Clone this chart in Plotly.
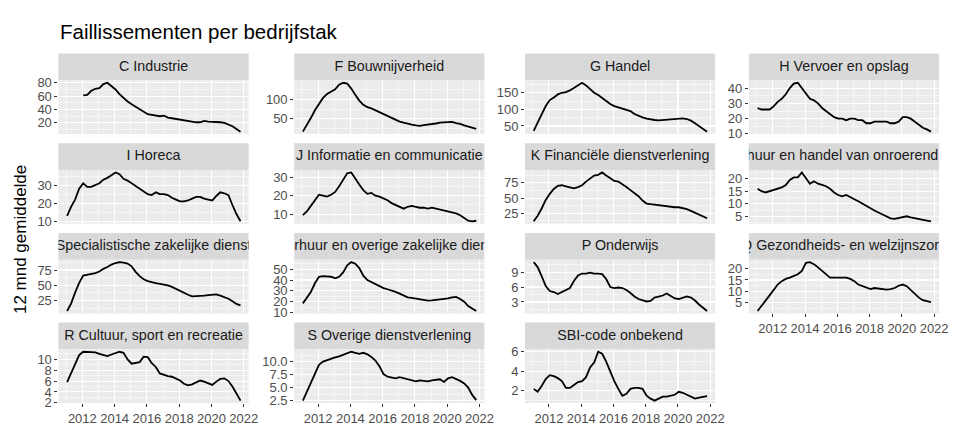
import pandas as pd
import plotly.graph_objects as go

# ---------------- data (quarterly readings of the 12-month average) ----------------
dates = pd.date_range("2011-01-01", periods=44, freq="QS") + pd.Timedelta(days=20)

panel_titles = [
    "C Industrie", "F Bouwnijverheid", "G Handel", "H Vervoer en opslag",
    "I Horeca", "J Informatie en communicatie", "K Financiële dienstverlening",
    "L Verhuur en handel van onroerend goed",
    "M Specialistische zakelijke diensten", "N Verhuur en overige zakelijke diensten",
    "P Onderwijs", "Q Gezondheids- en welzijnszorg",
    "R Cultuur, sport en recreatie", "S Overige dienstverlening", "SBI-code onbekend",
]

C_industrie = [None, None, None, None,
               61, 62, 68, 71, 72, 78, 80, 75, 70, 63, 57, 52, 48, 44, 40, 36,
               33, 32, 31, 30, 31, 28, 27, 26, 24, 23, 22, 21, 21, 21, 23, 22,
               22, 21, 21, 20, 18, 15, 11, 7]
F_bouw = [17, 33, 52, 72, 90, 104, 114, 120, 126, 138, 143, 141, 128, 112, 97, 86,
          80, 77, 72, 67, 63, 57, 52, 47, 43, 40, 37, 35, 33, 32, 34, 35,
          37, 38, 40, 41, 42, 42, 39, 37, 33, 30, 27, 24]
G_handel = [35, 58, 85, 110, 128, 136, 145, 150, 152, 157, 165, 174, 180, 172, 162, 150,
            143, 134, 124, 116, 110, 106, 102, 99, 95, 86, 80, 76, 72, 69, 68, 67,
            68, 68, 69, 70, 72, 73, 71, 66, 58, 50, 42, 33]
H_vervoer = [27, 26, 26, 26, 28, 31, 33, 36, 40, 43, 43.5, 40, 37, 33, 32, 30,
             27, 25, 23, 21, 20, 20, 19, 20, 20, 19, 19, 17, 17, 18, 18, 18,
             18, 17, 17, 18, 21, 21, 20, 18, 16, 14, 13, 11.5]
I_horeca = [13, 18, 22, 28, 31, 29, 29, 30, 31, 33, 34, 35.5, 37, 36, 33.5, 32.5,
            31, 29.5, 28, 26.5, 25, 24.5, 26, 25, 25, 24.5, 23, 22, 21, 21, 21.5, 22.5,
            23.5, 23.5, 22.5, 22, 21.5, 24, 26, 25.5, 24.5, 19, 14, 10]
J_informatie = [9.5, 11.5, 14.5, 17.5, 20.5, 20, 19.5, 20.5, 22, 25, 28.5, 32, 32.5, 29, 26, 23,
                21, 21.5, 20, 19.5, 18.5, 17.5, 16, 15, 14, 13, 14, 14.5, 14, 13.5, 13.5, 13,
                13.5, 13, 12.5, 12, 11.8, 11, 10.5, 9.5, 7.8, 6.5, 6.2, 6.5]
K_financieel = [12, 21, 33, 47, 57, 65, 70, 71, 69, 67, 66, 68, 71, 77, 82, 87,
                88, 92, 87, 82, 78, 77, 73, 68, 63, 58, 53, 46, 41, 40, 39, 38,
                37, 36, 35.5, 35, 35, 34, 32, 29, 26, 23, 20, 17]
L_onroerend = [16, 15, 14.5, 15, 15.5, 16, 16.5, 17.5, 19.5, 20.5, 20.5, 22.5, 20, 18, 19, 18,
               17.5, 17, 16, 14.5, 13.5, 13, 13.5, 12.5, 11.8, 11, 10, 9.2, 8.3, 7.3, 6.5, 5.7,
               4.9, 4.2, 4, 4.4, 4.8, 5, 4.6, 4.2, 3.9, 3.6, 3.3, 3.0]
M_specialistisch = [8, 20, 38, 54, 66, 67, 68.5, 70, 72.5, 77, 80, 84, 86.5, 88, 87, 85.5,
                    81, 72, 65, 60, 57, 55, 53.5, 52.5, 51.5, 50, 47.5, 44, 41.5, 38, 34.5, 32,
                    32, 32, 33, 34, 35, 35, 33, 31, 28, 24, 19.5, 17]
N_verhuur = [18.5, 24, 29, 37, 43, 43.5, 43, 43, 41.5, 43, 47, 53.5, 56.5, 55, 51, 44,
             40, 38, 36, 34, 32.5, 31.5, 30.5, 29, 27.5, 25.5, 24, 23.5, 23, 22.5, 21.5, 21,
             21.2, 21.5, 21.8, 22.5, 23, 24, 24.5, 22.5, 20, 16, 13.5, 11.5]
P_onderwijs = [11, 10, 8.2, 6.2, 5.2, 5, 4.6, 5, 5.4, 5.8, 7.2, 8.3, 8.7, 8.7, 8.9, 8.7,
               8.7, 8.6, 7.6, 6, 5.8, 5.9, 5.8, 5.4, 4.8, 4.1, 3.6, 3.3, 3.1, 3.2, 3.9, 4.1,
               4.3, 4.7, 4.2, 3.7, 3.6, 3.9, 4.1, 3.9, 3.3, 2.5, 1.9, 1.2]
Q_zorg = [1.5, 4, 6, 8.3, 10.8, 13, 14.5, 15.5, 16, 16.7, 17.5, 19, 22.5, 22.8, 21.9, 20.5,
          19, 17.5, 16, 16, 16, 16, 16, 15.5, 14.5, 13, 12.3, 11.5, 11, 11.5, 11.2, 10.9,
          10.8, 11, 11.5, 12.5, 13, 12.3, 10.5, 9, 7.3, 6.2, 5.8, 5.4]
R_cultuur = [5.8, 7.4, 9.2, 10.8, 11.4, 11.4, 11.3, 11.3, 11, 10.8, 10.6, 10.9, 11.1, 11.4, 11.2, 10,
             9.2, 9.3, 9.5, 10.5, 10.4, 9.3, 8.6, 7.4, 7.1, 6.9, 6.8, 6.5, 6.1, 5.5, 5.2, 5.4,
             5.8, 6.1, 5.9, 5.6, 5.3, 5.9, 6.4, 6.5, 6.0, 5.0, 3.8, 2.4]
S_overig = [2.5, 4.2, 6, 8, 9.4, 10.0, 10.3, 10.5, 10.8, 11.0, 11.3, 11.5, 11.9, 11.7, 11.5, 11.7,
            11.4, 10.9, 10.2, 9.1, 7.6, 7.1, 6.9, 6.8, 7, 6.8, 6.5, 6.3, 6.2, 6.4, 6.3, 6.2,
            6.4, 6.5, 6.6, 6.1, 6.8, 7, 6.7, 6.3, 5.8, 5, 3.6, 2.6]
SBI_onbekend = [2.2, 1.9, 2.5, 3.2, 3.6, 3.5, 3.3, 3.0, 2.3, 2.3, 2.6, 2.9, 3.0, 3.4, 4.4, 4.9,
                6.0, 5.8, 5.0, 3.9, 3.0, 2.2, 1.5, 1.7, 2.2, 2.3, 2.3, 2.2, 1.5, 1.2, 1.0, 1.2,
                1.4, 1.4, 1.5, 1.6, 1.9, 1.8, 1.6, 1.4, 1.2, 1.3, 1.4, 1.45]

series = [C_industrie, F_bouw, G_handel, H_vervoer, I_horeca, J_informatie, K_financieel,
          L_onroerend, M_specialistisch, N_verhuur, P_onderwijs, Q_zorg, R_cultuur,
          S_overig, SBI_onbekend]
y_dtick = [20, 50, 50, 10, 10, 10, 25, 5, 25, 10, 3, 5, 2, 2.5, 2]
y_format = ["", "", "", "", "", "", "", "", "", "", "", "", "", ".1f", ""]

# ---------------- layout geometry (pixels) ----------------
W, H = 955, 428
col_x0 = [59, 297, 530, 756]
panel_w = 192
row_top0, row_step, strip_h, panel_h = 50, 92.25, 27.5, 55.3
FONT = "Liberation Sans, Arial, Helvetica, sans-serif"
bottom_panels = {11, 12, 13, 14}


def fx(p):
    return p / W


def fy(p):
    return 1 - p / H


fig = go.Figure()
layout = dict(
    width=W, height=H, margin=dict(l=0, r=0, t=0, b=0),
    paper_bgcolor="white", plot_bgcolor="rgba(0,0,0,0)",
    showlegend=False, font=dict(family=FONT),
)
shapes = []
n = len(series)
for k in range(n):
    r, c = divmod(k, 4)
    x0 = col_x0[c]
    x1 = x0 + panel_w
    st = row_top0 + r * row_step
    pt = st + strip_h
    pb = pt + panel_h
    shapes.append(dict(type="rect", xref="paper", yref="paper", x0=fx(x0), x1=fx(x1),
                       y0=fy(st + strip_h), y1=fy(st), fillcolor="#D9D9D9",
                       line=dict(width=0), layer="below"))
    shapes.append(dict(type="rect", xref="paper", yref="paper", x0=fx(x0), x1=fx(x1),
                       y0=fy(pb), y1=fy(pt), fillcolor="#EBEBEB",
                       line=dict(width=0), layer="below"))

    vals = [v for v in series[k] if v is not None]
    lo, hi = min(vals), max(vals)
    pad = 0.05 * (hi - lo)
    ax = k + 1
    sx = n + k + 1
    is_bottom = k in bottom_panels
    layout[f"xaxis{ax}"] = dict(
        domain=[fx(x0), fx(x1)], anchor=f"y{ax}", type="date",
        range=["2010-07-09", "2022-04-23"],
        tick0="2012-01-01", dtick="M24", tickformat="%Y", tickangle=0,
        showgrid=True, gridcolor="white", gridwidth=1.1,
        minor=dict(dtick="M12", tick0="2011-01-01", showgrid=True,
                   gridcolor="white", gridwidth=0.5),
        zeroline=False, showline=False,
        showticklabels=is_bottom, ticks="outside" if is_bottom else "",
        ticklen=3, tickwidth=1, tickcolor="#333333",
        tickfont=dict(size=13, color="#4D4D4D", family=FONT),
    )
    layout[f"yaxis{ax}"] = dict(
        domain=[fy(pb), fy(pt)], anchor=f"x{ax}",
        range=[lo - pad, hi + pad], tick0=0, dtick=y_dtick[k], tickformat=y_format[k],
        showgrid=True, gridcolor="white", gridwidth=1.1,
        minor=dict(dtick=y_dtick[k] / 2, tick0=0, showgrid=True,
                   gridcolor="white", gridwidth=0.5),
        zeroline=False, showline=False,
        ticks="outside", ticklen=3, tickwidth=1, tickcolor="#333333",
        tickfont=dict(size=13, color="#4D4D4D", family=FONT),
    )
    fig.add_trace(go.Scatter(x=dates, y=series[k], mode="lines",
                             line=dict(color="black", width=1.8),
                             connectgaps=False, hoverinfo="skip",
                             xaxis=f"x{ax}", yaxis=f"y{ax}"))

    # strip label, clipped to the strip box like ggplot
    layout[f"xaxis{sx}"] = dict(domain=[fx(x0), fx(x1)], anchor=f"y{sx}", range=[0, 1],
                                visible=False, fixedrange=True)
    layout[f"yaxis{sx}"] = dict(domain=[fy(st + strip_h), fy(st)], anchor=f"x{sx}",
                                range=[0, 1], visible=False, fixedrange=True)
    fig.add_trace(go.Scatter(x=[0.5], y=[0.5], mode="text", text=[panel_titles[k]],
                             textposition="middle center", cliponaxis=True,
                             textfont=dict(size=14.3, color="#1A1A1A", family=FONT),
                             hoverinfo="skip", xaxis=f"x{sx}", yaxis=f"y{sx}"))

layout["shapes"] = shapes
layout["annotations"] = [
    dict(text="Faillissementen per bedrijfstak", xref="paper", yref="paper",
         x=fx(59), y=fy(27), xanchor="left", yanchor="middle", showarrow=False,
         font=dict(size=20.5, color="black", family=FONT)),
    dict(text="12 mnd gemiddelde", xref="paper", yref="paper",
         x=fx(20), y=fy(241), xanchor="center", yanchor="middle", showarrow=False,
         textangle=-90, font=dict(size=17, color="black", family=FONT)),
]
fig.update_layout(**layout)
fig.write_html("out.html",
               config={"displayModeBar": False, "staticPlot": True},
               post_script="document.body.style.margin='0px';"
                           "document.body.style.overflow='hidden';")
